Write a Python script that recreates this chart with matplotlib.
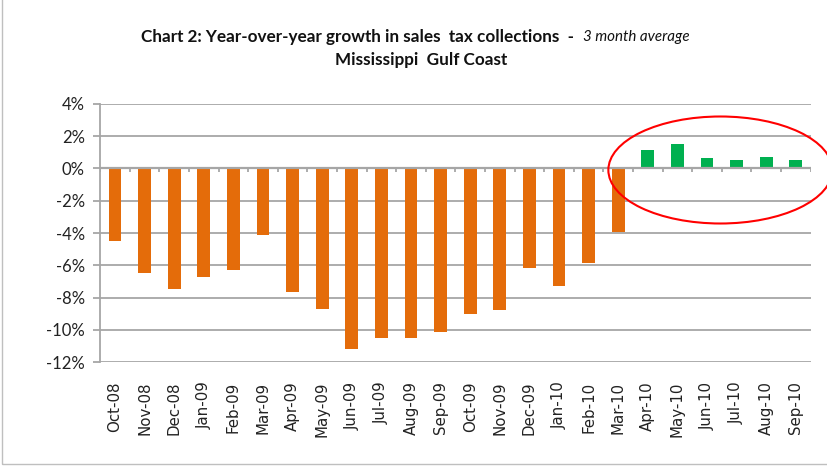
import matplotlib.pyplot as plt
from matplotlib.patches import Ellipse, Rectangle
from matplotlib.ticker import FuncFormatter, MultipleLocator

months = ["Oct-08", "Nov-08", "Dec-08", "Jan-09", "Feb-09", "Mar-09", "Apr-09", "May-09",
          "Jun-09", "Jul-09", "Aug-09", "Sep-09", "Oct-09", "Nov-09", "Dec-09", "Jan-10",
          "Feb-10", "Mar-10", "Apr-10", "May-10", "Jun-10", "Jul-10", "Aug-10", "Sep-10"]
growth = [-4.50, -6.46, -7.50, -6.71, -6.28, -4.13, -7.67, -8.69,
          -11.19, -10.49, -10.49, -10.15, -9.03, -8.78, -6.19, -7.30,
          -5.85, -3.96, 1.15, 1.52, 0.66, 0.53, 0.72, 0.53]

orange = "#E46C0A"
green = "#00B050"
grid_col = "#A6A6A6"
label_font = "Lato"

fig = plt.figure(figsize=(8.28, 4.66), dpi=100)
ax = fig.add_axes([0.121, 0.223, 0.858, 0.554])

colors = [green if v > 0 else orange for v in growth]
x = range(len(months))
ax.bar(x, growth, width=0.43, color=colors, zorder=3)

ax.set_xlim(-0.5, len(months) - 0.5)
ax.set_ylim(-12, 4)
ax.yaxis.set_major_locator(MultipleLocator(2))
ax.yaxis.set_major_formatter(FuncFormatter(lambda v, p: f"{v:.0f}%"))
ax.grid(axis="y", color=grid_col, linewidth=1.3, zorder=0)

for s in ["top", "right", "bottom"]:
    ax.spines[s].set_visible(False)
ax.spines["left"].set_color(grid_col)
ax.spines["left"].set_linewidth(1.3)
ax.axhline(0, color=grid_col, linewidth=1.6, zorder=4)

ax.set_xticks(x)
ax.set_xticklabels(months, rotation=90, fontsize=10.8, family="DejaVu Sans", color="#222222")
ax.tick_params(axis="x", length=0, pad=14)
# small tick marks on the zero line between categories
for b in range(len(months) + 1):
    ax.plot([b - 0.5, b - 0.5], [0, -0.25], color=grid_col, linewidth=1.3, zorder=4,
            solid_capstyle="butt")
ax.tick_params(axis="y", length=5, width=1.3, color=grid_col, labelsize=12, pad=6)
for lbl in ax.get_yticklabels():
    lbl.set_family(label_font)
    lbl.set_color("#222222")

fig.text(574 / 828, 1 - 37 / 466, "Chart 2: Year-over-year growth in sales  tax collections  -",
         ha="right", va="center", fontsize=12.3, fontweight="bold", family=label_font,
         color="#111111")
fig.text(583 / 828, 1 - 37 / 466, "3 month average", ha="left", va="center", fontsize=10.9,
         style="italic", family=label_font, color="#111111")
fig.text(421 / 828, 1 - 60 / 466, "Mississippi  Gulf Coast", ha="center", va="center",
         fontsize=12.3, fontweight="bold", family=label_font, color="#111111")

fig.patches.append(Ellipse((0.87, 1 - 170 / 466), 224 / 828, 107 / 466,
                           transform=fig.transFigure, fill=False, edgecolor="#FF0000",
                           linewidth=1.5, zorder=10))
fig.patches.append(Rectangle((0.002, 0.005), 1.2, 1.2, transform=fig.transFigure, fill=False,
                             edgecolor="#BFBFBF", linewidth=1))

fig.savefig("out.png", dpi=100)
